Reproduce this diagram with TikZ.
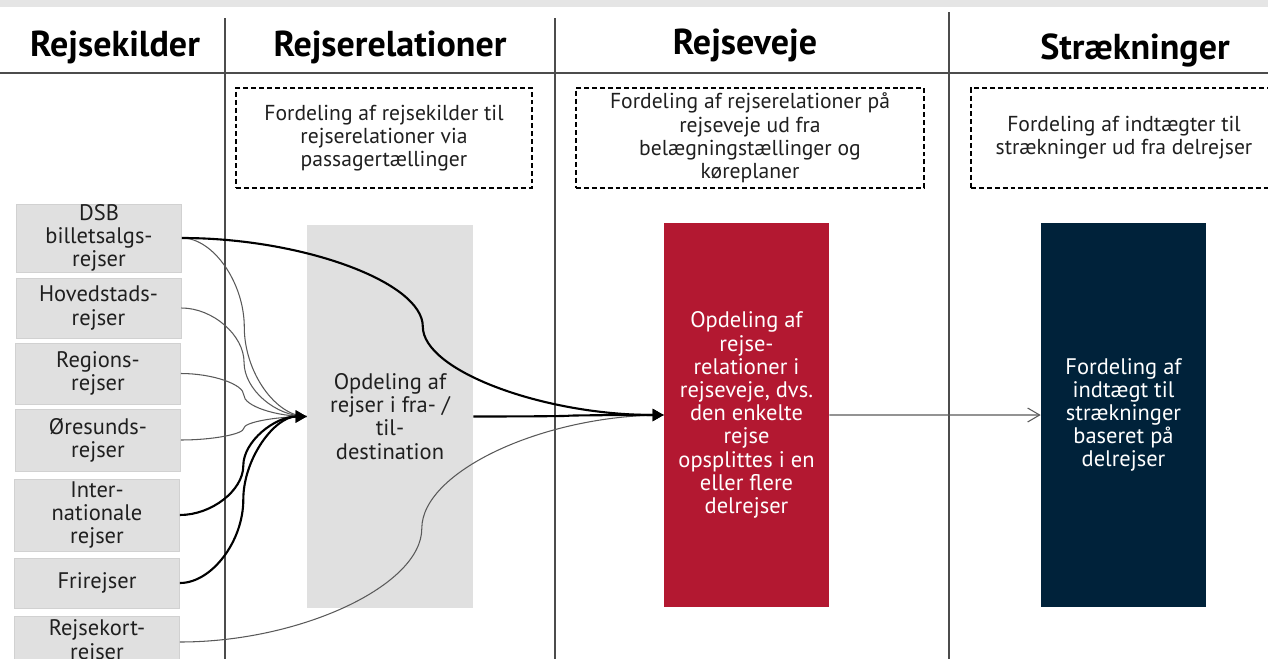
\documentclass[tikz,border=0pt]{standalone}
\usepackage{fontspec}
\setmainfont{PT Sans}
\usetikzlibrary{arrows.meta, calc}
\definecolor{dsbred}{HTML}{B31831}
\definecolor{dsbnavy}{HTML}{00223A}
\definecolor{boxgray}{HTML}{E0E0E0}

\begin{document}
\begin{tikzpicture}[x=0.02cm, y=-0.02cm,
    every node/.style={font=\fontsize{12.8}{13.2}\selectfont, align=center, inner sep=0pt, text=black!88},
    head/.style={font=\fontsize{20.5}{22}\selectfont\bfseries, anchor=base, text=black},
    note/.style={draw=black, line width=0.8pt, dash pattern=on 2.8pt off 1.7pt, minimum height=2cm, font=\fontsize{12.3}{13.2}\selectfont},
    src/.style={fill=boxgray, draw=black!18, line width=0.5pt, minimum width=3.3cm},
    stage/.style={minimum width=3.3cm, minimum height=7.67cm, text=white},
    sep/.style={draw=black!70, line width=0.7pt},
    feed/.style={draw=black!65, line width=0.6pt},
    flow/.style={draw=black, line width=1.2pt, -{Triangle[length=0.22cm, width=0.24cm]}},
    elbow/.style={to path={let \p1=(\tikztostart), \p2=(\tikztotarget), \p3=($(\p1)!0.5!(\p2)$) in
      .. controls ($(\p1)!0.25!(\x2,\y1)$) and (\x3,{\y1+(\y2-\y1)/4}) .. (\p3)
      .. controls (\x3,{\y2-(\y2-\y1)/4}) and ($(\p2)!0.25!(\x1,\y2)$) .. (\p2) \tikztonodes}}
]
\useasboundingbox (0,0) rectangle (1268,659);
\clip (0,0) rectangle (1268,659);
\fill[black!10] (0,0) rectangle (1268,7);

\draw[sep] (0,73) -- (1268,73);
\draw[sep] (225,18) -- (225,659);
\draw[sep] (555,18) -- (555,659);
\draw[sep] (949,12) -- (949,659);

\node[head] (h1) at (115,56) {Rejsekilder};
\node[head] (h2) at (390,56) {Rejserelationer};
\node[head] (h3) at (745,54) {Rejseveje};
\node[head] (h4) at (1135,59) {Strækninger};

\node[note, minimum width=5.92cm] (n1) at (384,138) {Fordeling af rejsekilder til\\rejserelationer via\\passagertællinger};
\node[note, minimum width=6.96cm] (n2) at (750,138) {Fordeling af rejserelationer på\\rejseveje ud fra\\belægningstællinger og\\køreplaner};
\node[note, minimum width=6.12cm] (n3) at (1124,138) {Fordeling af indtægter til\\strækninger ud fra delrejser};

\node[src, minimum height=1.36cm] (dsb) at (99,238) {DSB\\billetsalgs-\\rejser};
\node[src, minimum height=1.2cm] (hov) at (98.5,308) {Hovedstads-\\rejser};
\node[src, minimum height=1.22cm] (reg) at (98,373.5) {Regions-\\rejser};
\node[src, minimum height=1.24cm] (ore) at (98,440) {Øresunds-\\rejser};
\node[src, minimum height=1.44cm] (intl) at (97,515) {Inter-\\nationale\\rejser};
\node[src, minimum height=1cm] (fri) at (97,583) {Frirejser};
\node[src, minimum height=1.04cm] (rk) at (97,642) {Rejsekort-\\rejser};

\node[stage, fill=boxgray, text=black!88, minimum width=3.32cm] (opd) at (390,416.5) {Opdeling af\\rejser i fra- /\\til-\\destination};
\node[stage, fill=dsbred] (vej) at (746.5,415) {Opdeling af\\rejse-\\relationer i\\rejseveje, dvs.\\den enkelte\\rejse\\opsplittes i en\\eller flere\\delrejser};
\node[stage, fill=dsbnavy] (str) at (1123.5,415) {Fordeling af\\indtægt til\\strækninger\\baseret på\\delrejser};

\foreach \s in {dsb,hov,reg,ore}
  \draw[feed] (\s.east) to[elbow] (opd.west);
\draw[feed] (rk.east) to[elbow] (vej.west);
\foreach \s in {intl,fri}
  \draw[flow] (\s.east) to[elbow] (opd.west);
\draw[flow] (dsb.east) to[elbow] (vej.west);
\draw[flow] (opd.east) to[elbow] (vej.west);
\draw[feed, -{Straight Barb[length=0.24cm, width=0.28cm]}] (vej.east) to[elbow] (str.west);
\end{tikzpicture}
\end{document}
